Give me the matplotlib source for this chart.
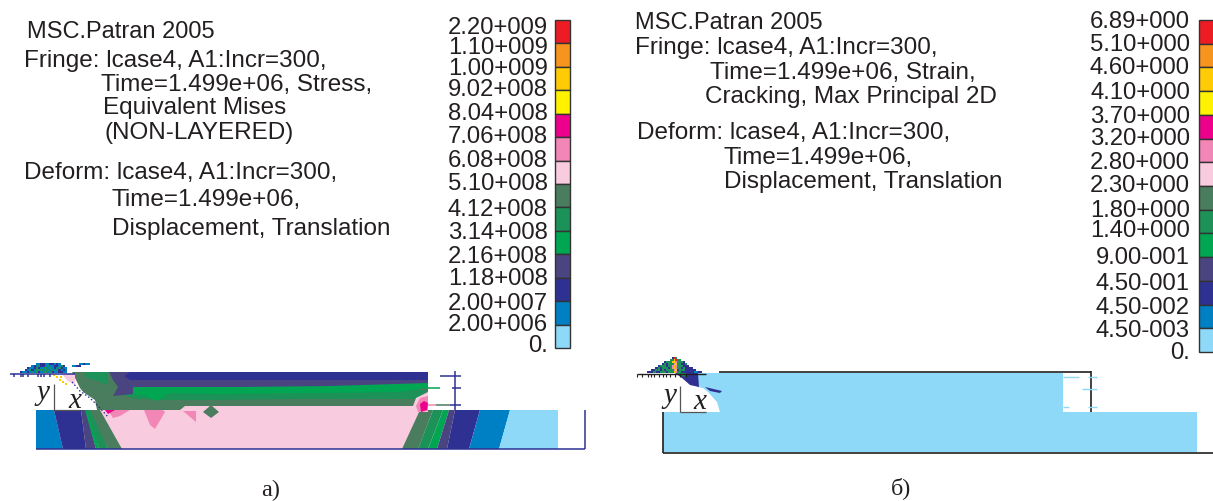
import matplotlib
matplotlib.use("Agg")
import matplotlib.pyplot as plt
from matplotlib.patches import Polygon, Rectangle

plt.rcParams['font.family'] = ['Liberation Sans', 'DejaVu Sans']

palette = ['#ED1C24', '#F7941D', '#FFCB05', '#FFF200', '#EC008C', '#F286B6', '#F9CBDF',
           '#4A7C5E', '#1C9158', '#00A651', '#4A4580', '#2E3192', '#0080C4', '#8ED8F8']
INK = '#231F20'
NAVY = '#2E3192'

labels_a = ['2.20+009', '1.10+009', '1.00+009', '9.02+008', '8.04+008', '7.06+008', '6.08+008', '5.10+008',
            '4.12+008', '3.14+008', '2.16+008', '1.18+008', '2.00+007', '2.00+006', '0.']
label_y_a = [28, 48, 69, 90, 114, 137, 161, 184, 210, 233, 257, 279, 304, 325, 346]
labels_b = ['6.89+000', '5.10+000', '4.60+000', '4.10+000', '3.70+000', '3.20+000', '2.80+000', '2.30+000',
            '1.80+000', '1.40+000', '9.00-001', '4.50-001', '4.50-002', '4.50-003', '0.']
label_y_b = [22, 45, 68, 93, 117, 139, 163, 186, 211, 231, 258, 284, 308, 331, 353]

text_a = [(27, 32, 'MSC.Patran 2005'), (24, 61, 'Fringe: lcase4, A1:Incr=300,'),
          (101, 85, 'Time=1.499e+06, Stress,'), (103, 108, 'Equivalent Mises'),
          (105, 133, '(NON-LAYERED)'), (24, 173, 'Deform: lcase4, A1:Incr=300,'),
          (112, 200, 'Time=1.499e+06,'), (112, 229, 'Displacement, Translation')]
text_b = [(635, 23, 'MSC.Patran 2005'), (635, 48, 'Fringe: lcase4, A1:Incr=300,'),
          (710, 73, 'Time=1.499e+06, Strain,'), (705, 97, 'Cracking, Max Principal 2D'),
          (637, 133, 'Deform: lcase4, A1:Incr=300,'), (724, 158, 'Time=1.499e+06,'),
          (724, 182, 'Displacement, Translation')]

# contour bands of panel a, lower block: (colour index, left edge top/bottom, right edge top/bottom)
bands_left = [(12, 36, 36, 54, 63), (11, 54, 63, 81, 86), (10, 81, 86, 86, 96), (9, 85, 96, 89, 99),
              (8, 87, 99, 93, 108), (7, 90, 108, 100, 122)]
bands_right = [(7, 420, 402, 433, 418), (8, 433, 418, 443, 428), (9, 443, 428, 449, 437),
               (10, 449, 437, 455, 447), (11, 455, 447, 480, 469), (12, 480, 469, 510, 499),
               (13, 510, 499, 558, 558)]

# contour regions of panel a, upper body, painted in this order
upper_bands = [
    (7, [(72, 372), (428, 372), (428, 402), (415, 406), (185, 406), (180, 410), (97, 410), (80, 388)]),
    (8, [(85, 372), (108, 372), (108, 385), (95, 380), (85, 377)]),
    (8, [(117, 393), (428, 390), (418, 399), (300, 399), (215, 400), (165, 400), (135, 399)]),
    (9, [(133, 387), (428, 383), (428, 388), (400, 392), (330, 393), (220, 394), (170, 393), (157, 401),
         (145, 396), (120, 393)]),
    (10, [(109, 372), (428, 372), (428, 383), (330, 386), (240, 387), (133, 387), (133, 394), (113, 396),
          (118, 387), (113, 380)]),
    (11, [(124, 376), (130, 372), (428, 372), (428, 380), (130, 380)]),
]
pink_patches = [
    (5, [(108, 410), (130, 410), (120, 416), (113, 418)]),
    (5, [(144, 410), (163, 410), (165, 412), (155, 429), (150, 425)]),
    (5, [(183, 411), (196, 411), (196, 422)]),
    (4, [(105, 410), (115, 410), (108, 414)]),
    (7, [(203, 412), (211, 405), (219, 412), (211, 418)]),
    (6, [(413, 406), (416, 398), (428, 392), (428, 412), (414, 412)]),
    (5, [(416, 406), (420, 398), (428, 396), (428, 411), (418, 412)]),
    (4, [(420, 404), (424, 401), (428, 403), (427, 410), (421, 412)]),
]

notch_a = [(36, 372), (50, 372), (62, 378), (72, 383), (80, 390), (95, 400), (97, 410), (36, 410)]
mesh_edge_a = ([72, 80, 90, 100, 108], [382, 391, 398, 408, 417])
body_b = [(696, 373), (1063, 373), (1063, 412), (1197, 412), (1197, 452), (663, 452), (663, 412), (720, 412),
          (717, 402), (708, 392), (703, 388), (697, 387)]

# hand-read colour map of the deformed mesh crumbs: rows top to bottom, letters map to palette, . is empty
crumbs_a = ['.......bbaabbaabab........bbabb',
            '.....babcaabcbbaabca...bbaa....',
            '...abbacabccbcbabcabb..........',
            '..abcabcccbccbcbcabab..........',
            'abbabcbcabccbcabbaabb..........']
crumbs_b = ['..............adc...............',
            '.............ccedcc.............',
            '..........accceefccca...........',
            '.........acacccfeccaac..........',
            '.......acccaccfefcccaaa.........',
            '.....aacacccacfefccacaaaa.......',
            '...aacccacaccccfeacccaaaaaa.....',
            '.aaaccaacccacccefccaaaaaaabbaa..']
crumb_colours = {'a': palette[11], 'b': palette[12], 'c': palette[8], 'd': palette[0],
                 'e': palette[2], 'f': palette[5]}
hot_dots_a = [(53, 374), (56, 376), (59, 379), (62, 381), (65, 383), (60, 376)]

fig = plt.figure(figsize=(12.13, 5.01), dpi=100)
ax = fig.add_axes([0, 0, 1, 1])
ax.set_xlim(0, 1213)
ax.set_ylim(501, 0)
ax.axis('off')


def poly(points, colour, z=2):
    ax.add_patch(Polygon(points, closed=True, fc=palette[colour] if isinstance(colour, int) else colour,
                         ec='none', zorder=z))


def line(xs, ys, colour=NAVY, lw=1.1, z=5, ls='-'):
    ax.plot(xs, ys, color=colour, lw=lw, zorder=z, solid_capstyle='butt', ls=ls)


def colourbar(x0, x1, y0, y1):
    h = (y1 - y0) / len(palette)
    for i, c in enumerate(palette):
        ax.add_patch(Rectangle((x0, y0 + i * h), x1 - x0, h, fc=c, ec='#333333', lw=1.0, zorder=3))


def crumbs(rows, x0, y0, w, h):
    for r, row in enumerate(rows):
        for c, ch in enumerate(row):
            if ch != '.':
                ax.add_patch(Rectangle((x0 + c * w, y0 + r * h), w, h,
                                       fc=crumb_colours[ch], ec='none', zorder=4))


# colour bars and labels
colourbar(554.5, 570, 20, 348)
colourbar(1198.5, 1216, 20, 352)
for s, y in zip(labels_a, label_y_a):
    ax.text(548, y, s, ha='right', va='center', fontsize=17.2, color=INK)
for s, y in zip(labels_b, label_y_b):
    ax.text(1190, y, s, ha='right', va='center', fontsize=17.2, color=INK)
for x, y, s in text_a + text_b:
    ax.text(x, y, s, ha='left', va='center', fontsize=17 if s.startswith('MSC') else 17.5, color=INK)

# panel a: body
poly([(72, 406), (428, 406), (428, 449), (36, 449), (36, 410), (72, 410)], 6, 2)
for c, lt, lb, rt, rb in bands_left + bands_right:
    poly([(lt, 410), (rt, 410), (rb, 449), (lb, 449)], c, 3)
for c, pts in upper_bands:
    poly(pts, c, 3)
for c, pts in pink_patches:
    poly(pts, c, 4)
poly(notch_a, 'white', 4)
poly([(62, 374), (75, 374), (75, 386), (70, 384)], 6, 3)
line(*mesh_edge_a, NAVY, 1.0, 5, ':')
for x, y in hot_dots_a:
    ax.add_patch(Rectangle((x, y), 2.2, 2.2, fc=palette[2], ec='none', zorder=5))
crumbs(crumbs_a, 20, 362.5, 2.25, 2.0)
line([10, 75], [373.5, 373.5])
for x in [14, 21, 23, 28, 38, 41, 44, 50]:
    line([x, x], [373.5, 376.5])
line([36, 585], [449, 449], NAVY, 1.1)
line([584.5, 584.5], [410, 449])
line([454.5, 454.5], [371, 410])
line([440, 461], [376, 376])
line([428, 440], [388, 388], palette[9])
line([452, 461], [388, 388])
line([428, 436], [405, 405], palette[5])
line([436, 450], [405, 405], palette[7])
line([450, 461], [405, 405])

# panel b: body
poly(body_b, 13, 2)
poly([(675, 373), (698, 373), (699, 387), (690, 385), (682, 378)], 11, 3)
poly([(676, 373), (686, 373), (685, 377)], 8, 4)
poly([(705, 387), (722, 391), (720, 393), (710, 391)], 11, 3)
crumbs(crumbs_b, 645, 357, 1.9, 2.0)
line([719, 1091], [371.5, 371.5], INK, 1.2)
line([637, 706], [373.5, 373.5], INK, 1.0)
for x in [637, 642, 648, 651, 654, 659, 663, 666, 670, 675, 680, 686]:
    line([x, x], [373.5, 376.5], INK, 0.8)
line([1090.5, 1090.5], [371, 412], INK, 1.2)
line([663, 1213], [452.5, 452.5], INK, 1.2)
line([662.5, 662.5], [412, 453], INK, 1.2)
for x0, x1, y in [(1063, 1079, 377), (1088, 1097, 377), (1082, 1097, 389), (1063, 1069, 407), (1088, 1097, 407)]:
    line([x0, x1], [y, y], palette[13], 1.0, 6)

# local axes
for x0, bottom, yx, yy, xx, xy in [(54, 410, 43, 393, 75, 401), (680, 412, 670, 396, 700, 402)]:
    line([x0, x0], [bottom - 26, bottom], '#555555', 0.9, 6)
    line([x0, x0 + 26], [bottom, bottom], '#555555', 0.9, 6)
    ax.text(yx, yy, 'y', family=['Liberation Serif'], style='italic', fontsize=21,
            ha='center', va='center', color=INK, zorder=7)
    ax.text(xx, xy, 'x', family=['Liberation Serif'], style='italic', fontsize=21,
            ha='center', va='center', color=INK, zorder=7)

# captions
ax.text(271, 490, 'а)', family=['Liberation Serif'], fontsize=17.5, ha='center', va='center', color=INK)
ax.text(901, 488, 'б)', family=['Liberation Serif'], fontsize=17.5, ha='center', va='center', color=INK)

fig.savefig('out.png', dpi=100)
